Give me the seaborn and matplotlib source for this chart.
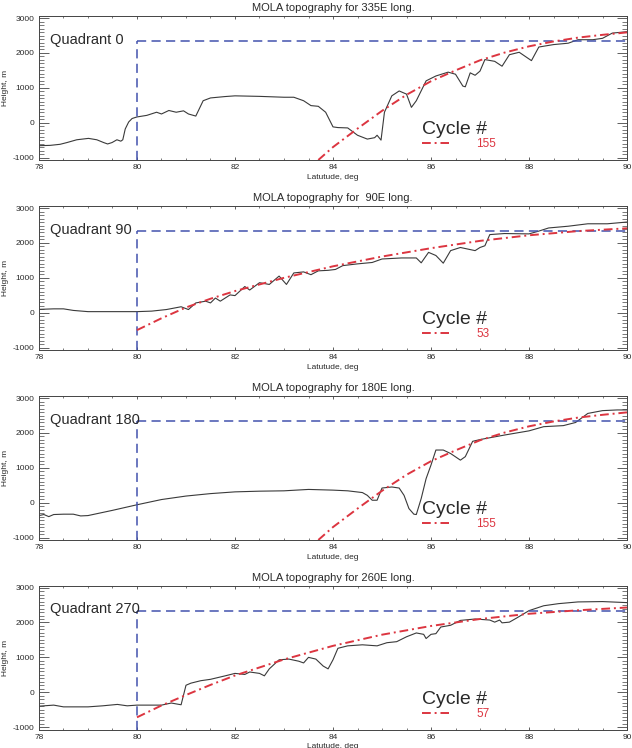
import matplotlib
matplotlib.use("Agg")
import matplotlib.pyplot as plt
import seaborn as sns
import pandas as pd
from matplotlib.ticker import MultipleLocator

# ---------------- data ----------------
titles = ["MOLA topography for 335E long.", "MOLA topography for  90E long.",
          "MOLA topography for 180E long.", "MOLA topography for 260E long."]
quadrant_labels = ["Quadrant 0", "Quadrant 90", "Quadrant 180", "Quadrant 270"]
cycle_labels = ["155", "53", "155", "57"]
boundary_lat = 80.0
reference_height = 2330.0

# Quadrant 0 (335E) profile
lat_q0 = [78.0, 78.23, 78.43, 78.57, 78.77, 79.01, 79.18, 79.32, 79.40, 79.49,
          79.59, 79.67, 79.71, 79.76, 79.83, 79.90, 80.0, 80.2, 80.4, 80.5,
          80.65, 80.8, 80.95, 81.05, 81.2, 81.35, 81.5, 81.8, 82.0, 82.5,
          83.0, 83.2, 83.4, 83.55, 83.7, 83.85, 84.0, 84.1, 84.3, 84.5,
          84.7, 84.85, 84.9, 84.98, 85.05, 85.2, 85.35, 85.5, 85.6, 85.7,
          85.9, 86.1, 86.35, 86.5, 86.65, 86.7, 86.8, 86.9, 87.0, 87.1,
          87.3, 87.45, 87.6, 87.8, 88.05, 88.2, 88.5, 88.8, 89.0, 89.3,
          89.5, 89.7, 90.0]
h_q0 = [-660, -650, -620, -570, -490, -450, -490, -570, -610, -570,
        -490, -530, -490, -180, 20, 120, 165, 210, 300, 250,
        350, 300, 340, 250, 190, 630, 710, 750, 770, 755,
        730, 730, 630, 490, 470, 300, -120, -140, -150, -360,
        -470, -430, -360, -500, 300, 770, 910, 820, 440, 630,
        1200, 1340, 1450, 1390, 1050, 1030, 1430, 1360, 1480, 1810,
        1760, 1620, 1950, 2020, 1780, 2170, 2240, 2280, 2380, 2380,
        2420, 2570, 2610]

# Quadrant 90 profile
lat_q90 = [78.0, 78.3, 78.5, 78.7, 79.0, 79.5, 80.0, 80.3, 80.6, 80.9,
           81.05, 81.2, 81.4, 81.5, 81.6, 81.7, 81.9, 82.0, 82.2, 82.3,
           82.5, 82.7, 82.9, 83.05, 83.2, 83.4, 83.55, 83.7, 83.9, 84.05,
           84.2, 84.5, 84.8, 85.0, 85.4, 85.7, 85.8, 85.95, 86.1, 86.25,
           86.4, 86.6, 86.9, 87.0, 87.1, 87.2, 87.5, 88.0, 88.2, 88.4,
           88.8, 89.2, 89.6, 90.0]
h_q90 = [95, 110, 110, 65, 30, 30, 30, 45, 90, 170,
         90, 280, 330, 280, 420, 330, 510, 490, 750, 650,
         860, 810, 1050, 810, 1140, 1170, 1090, 1200, 1215, 1240,
         1350, 1400, 1440, 1540, 1570, 1570, 1430, 1730, 1640, 1420,
         1780, 1870, 1780, 1870, 1920, 2240, 2270, 2260, 2340, 2430,
         2480, 2550, 2550, 2600]

# Quadrant 180 profile
lat_q180 = [78.0, 78.1, 78.2, 78.3, 78.5, 78.7, 78.85, 79.0, 79.5, 80.0,
            80.5, 81.0, 81.5, 82.0, 82.5, 83.0, 83.5, 84.0, 84.3, 84.6,
            84.7, 84.8, 84.9, 85.0, 85.2, 85.35, 85.45, 85.55, 85.65, 85.7,
            85.8, 85.9, 86.0, 86.1, 86.25, 86.4, 86.6, 86.7, 86.85, 87.0,
            87.5, 88.0, 88.3, 88.7, 88.95, 89.2, 89.5, 89.8, 90.0]
h_q180 = [-370, -340, -400, -340, -330, -330, -380, -370, -220, -60,
          90, 190, 260, 310, 330, 340, 380, 360, 340, 290,
          210, 70, 70, 420, 450, 420, 210, -170, -330, -340,
          120, 690, 1080, 1510, 1510, 1410, 1220, 1320, 1760, 1810,
          1940, 2060, 2180, 2210, 2300, 2560, 2640, 2660, 2660]

# Quadrant 270 (260E) profile
lat_q270 = [78.0, 78.3, 78.5, 79.0, 79.3, 79.6, 79.8, 80.0, 80.5, 80.7,
            80.9, 81.0, 81.1, 81.3, 81.5, 81.8, 82.0, 82.2, 82.3, 82.5,
            82.6, 82.7, 82.9, 83.1, 83.3, 83.4, 83.5, 83.65, 83.8, 83.9,
            84.0, 84.1, 84.3, 84.6, 84.9, 85.1, 85.3, 85.5, 85.7, 85.85,
            85.9, 86.0, 86.1, 86.2, 86.4, 86.6, 86.9, 87.2, 87.3, 87.4,
            87.45, 87.6, 87.75, 88.0, 88.3, 88.6, 89.0, 89.5, 90.0]
h_q270 = [-400, -370, -420, -420, -390, -350, -390, -370, -370, -310,
          -360, 200, 260, 330, 370, 470, 540, 510, 580, 540,
          470, 670, 930, 950, 890, 840, 1000, 950, 750, 670,
          930, 1260, 1330, 1360, 1330, 1420, 1450, 1590, 1700, 1660,
          1540, 1660, 1680, 1870, 1920, 2060, 2100, 2070, 2010, 2070,
          1990, 2010, 2130, 2340, 2480, 2540, 2590, 2600, 2570]

# Cycle model curves
fit_lat_155 = [83.7, 84.0, 84.5, 85.0, 85.5, 86.0, 86.5, 87.0, 87.5, 88.0, 88.5, 89.0, 89.5, 90.0]
fit_h_155 = [-1070, -700, -170, 340, 800, 1190, 1500, 1790, 2010, 2190, 2330, 2440, 2520, 2590]
fit_lat_53 = [80.0, 80.5, 81.0, 81.5, 82.0, 83.0, 84.0, 85.0, 86.0, 87.0, 88.0, 89.0, 90.0]
fit_h_53 = [-500, -160, 150, 400, 620, 1000, 1330, 1610, 1850, 2060, 2220, 2340, 2420]
fit_lat_57 = [80.0, 80.5, 81.0, 81.5, 82.0, 83.0, 84.0, 85.0, 86.0, 87.0, 88.0, 89.0, 90.0]
fit_h_57 = [-720, -380, -80, 210, 480, 940, 1330, 1650, 1900, 2100, 2250, 2350, 2430]

profiles = [(lat_q0, h_q0), (lat_q90, h_q90), (lat_q180, h_q180), (lat_q270, h_q270)]
fits = [(fit_lat_155, fit_h_155), (fit_lat_53, fit_h_53), (fit_lat_155, fit_h_155), (fit_lat_57, fit_h_57)]

# ---------------- style ----------------
sns.set_theme(style="ticks")
plt.rcParams["font.family"] = ["Liberation Sans", "DejaVu Sans"]
plt.rcParams["axes.unicode_minus"] = False

BLACK = "#3a3a3a"
RED = "#dc3540"
BLUE = "#4252ad"
TEXT = "#2a2a2a"

fig = plt.figure(figsize=(6.32, 7.48), dpi=100)
fig.patch.set_facecolor("white")

left, width, height = 0.0617, 0.9304, 0.1925
bottoms = [0.7861, 0.5321, 0.2781, 0.0247]
ylo, yhi = -1070, 3060
xlo, xhi = 78, 90

for i in range(4):
    ax = fig.add_axes([left, bottoms[i], width, height])
    lat, h = profiles[i]
    flat, fh = fits[i]
    df_p = pd.DataFrame({"lat": lat, "h": h})
    df_f = pd.DataFrame({"lat": flat, "h": fh})

    sns.lineplot(data=df_p, x="lat", y="h", ax=ax, color=BLACK, lw=0.8,
                 sort=False, estimator=None)
    ax.vlines(boundary_lat, ylo, reference_height, colors=BLUE, lw=1.1,
              linestyles=(0, (6, 3.5)))
    ax.hlines(reference_height, boundary_lat, xhi, colors=BLUE, lw=1.1,
              linestyles=(0, (6, 3.5)))
    sns.lineplot(data=df_f, x="lat", y="h", ax=ax, color=RED, lw=1.4,
                 sort=False, estimator=None, label=cycle_labels[i])
    ax.lines[-1].set_dashes((4.5, 2, 1, 2))

    ax.set_xlim(xlo, xhi)
    ax.set_ylim(ylo, yhi)
    ax.xaxis.set_major_locator(MultipleLocator(2))
    ax.xaxis.set_minor_locator(MultipleLocator(0.5))
    ax.yaxis.set_major_locator(MultipleLocator(1000))
    ax.yaxis.set_minor_locator(MultipleLocator(100))
    ax.tick_params(axis="both", which="both", direction="in", top=True, right=True,
                   labelsize=6, colors="#444444", labelcolor=TEXT)
    ax.tick_params(axis="x", which="major", length=2.5, width=0.6, pad=3)
    ax.tick_params(axis="x", which="minor", length=1.5, width=0.5)
    ax.tick_params(axis="y", which="major", length=7.5, width=0.6, pad=3)
    ax.tick_params(axis="y", which="minor", length=3.8, width=0.5)
    for s in ax.spines.values():
        s.set_color("#444444")
        s.set_linewidth(0.7)

    ax.set_title(titles[i], fontsize=8, pad=3.5, color=TEXT)
    ax.set_xlabel("Latutude, deg", fontsize=6, labelpad=2, color=TEXT)
    ax.set_ylabel("Height, m", fontsize=6, labelpad=3, color=TEXT)

    ax.text(78.22, 2270, quadrant_labels[i], fontsize=10.5, color=TEXT, va="baseline")

    handles, labels = ax.get_legend_handles_labels()
    leg = ax.legend(handles, labels, title="Cycle #", loc="upper left",
                    bbox_to_anchor=(0.651, 0.27), frameon=False, fontsize=8.5,
                    title_fontsize=14, handlelength=2.3, handletextpad=2.3,
                    borderpad=0, borderaxespad=0, labelspacing=0,
                    alignment="left", labelcolor=RED)
    leg.get_title().set_color(TEXT)

fig.savefig("out.png", dpi=100, facecolor="white")
